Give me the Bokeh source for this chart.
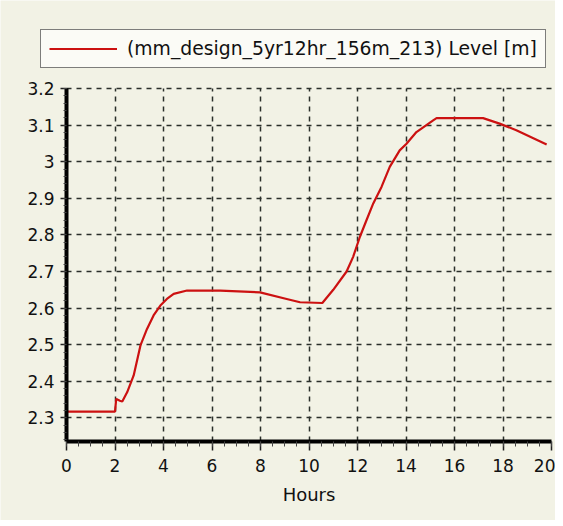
from bokeh.plotting import figure
from bokeh.models import (Range1d, FixedTicker, Legend, LegendItem, CustomJSTickFormatter)
from bokeh.embed import file_html
from bokeh.resources import INLINE

hours = [0, 2.0, 2.05, 2.2, 2.3, 2.5, 2.77, 3.05, 3.32, 3.59, 3.87, 4.14, 4.42, 4.97,
         6.34, 7.98, 9.08, 9.63, 10.55, 11.0, 11.55, 11.82, 12.1, 12.37, 12.65, 12.99,
         13.33, 13.74, 14.02, 14.43, 15.12, 15.26, 17.18, 17.86, 18.55, 19.8]
level = [2.317, 2.317, 2.352, 2.347, 2.345, 2.37, 2.416, 2.498, 2.543, 2.58, 2.607,
         2.625, 2.639, 2.648, 2.648, 2.643, 2.625, 2.616, 2.614, 2.650, 2.700, 2.740,
         2.795, 2.84, 2.886, 2.931, 2.986, 3.031, 3.049, 3.081, 3.113, 3.119, 3.119,
         3.104, 3.086, 3.047]
x_ticks = [0, 2, 4, 6, 8, 10, 12, 14, 16, 18, 20]
y_ticks = [2.3, 2.4, 2.5, 2.6, 2.7, 2.8, 2.9, 3.0, 3.1, 3.2]
x_min, x_max = 0, 20
y_min, y_max = 2.2355, 3.2
series_label = "(mm_design_5yr12hr_156m_213) Level [m]"
x_label = "Hours"

BG = "#f2f2e5"
FONT = "DejaVu Sans"
LINE_COLOR = "#cc1111"

# layout (pixels)
W, H = 555, 520
LEFT, TOP = 66, 88          # position of (0, 3.2)
PX_PER_HOUR = 24.25
PX_PER_UNIT = 366.0

x_range = Range1d(x_min - LEFT / PX_PER_HOUR, x_min + (W - LEFT) / PX_PER_HOUR)
y_range = Range1d(y_max - (H - TOP) / PX_PER_UNIT, y_max + TOP / PX_PER_UNIT)

p = figure(width=W, height=H, output_backend="svg", toolbar_location=None,
           x_range=x_range, y_range=y_range,
           min_border_left=0, min_border_right=0, min_border_top=0, min_border_bottom=0,
           background_fill_color=BG, border_fill_color=BG)
p.outline_line_color = None

r = p.line(hours, level, line_color=LINE_COLOR, line_width=2.2)

# axes
for ax in (p.xaxis[0], p.yaxis[0]):
    ax.axis_line_width = 4
    ax.axis_line_color = "black"
    ax.major_tick_line_color = "#222222"
    ax.minor_tick_line_color = "#444444"
    ax.major_tick_line_width = 1.5
    ax.minor_tick_line_width = 1
    ax.major_tick_in = 0
    ax.minor_tick_in = 0
    ax.major_label_text_font = FONT
    ax.major_label_text_font_size = "17px"
    ax.major_label_text_color = "#111111"

minor_x = [i * 0.5 for i in range(41)]
p.xaxis.fixed_location = y_min
p.xaxis.bounds = (x_min, x_max)
p.xaxis.ticker = FixedTicker(ticks=x_ticks, minor_ticks=minor_x)
p.xaxis.major_tick_out = 9
p.xaxis.minor_tick_out = 5
p.xaxis.major_label_standoff = 8
p.xaxis.axis_label = x_label
p.xaxis.axis_label_text_font = FONT
p.xaxis.axis_label_text_font_style = "normal"
p.xaxis.axis_label_text_font_size = "18px"
p.xaxis.axis_label_text_color = "#111111"
p.xaxis.axis_label_standoff = 9

minor_y = [2.24 + i * 0.02 for i in range(49)]
p.yaxis.fixed_location = x_min
p.yaxis.bounds = (y_min, y_max)
p.yaxis.ticker = FixedTicker(ticks=y_ticks, minor_ticks=minor_y)
p.yaxis.major_tick_out = 6
p.yaxis.minor_tick_out = 3
p.yaxis.major_label_standoff = 6
p.yaxis.formatter = CustomJSTickFormatter(code="return tick.toFixed(1).replace(/\\.0$/, '');")

# grids
p.xgrid.ticker = FixedTicker(ticks=x_ticks[1:-1])
p.xgrid.cross_bounds = (y_min, y_max)
p.ygrid.ticker = FixedTicker(ticks=y_ticks)
p.ygrid.cross_bounds = (x_min, x_max)
for g in (p.xgrid[0], p.ygrid[0]):
    g.grid_line_color = "#2a2f2a"
    g.grid_line_width = 1.5
    g.grid_line_dash = "5 5"

legend = Legend(items=[LegendItem(label=series_label, renderers=[r])],
                location=(40, H - 68), orientation="horizontal")
legend.label_text_font = FONT
legend.label_text_font_size = "18.8px"
legend.label_text_color = "#111111"
legend.glyph_width = 68
legend.glyph_height = 19
legend.label_width = 409
legend.label_standoff = 10
legend.padding = 8
legend.margin = 0
legend.border_line_color = "black"
legend.border_line_width = 1.5
legend.background_fill_color = "#fbfbf6"
legend.background_fill_alpha = 1
p.add_layout(legend)

open("out.html", "w").write(file_html(p, INLINE))
